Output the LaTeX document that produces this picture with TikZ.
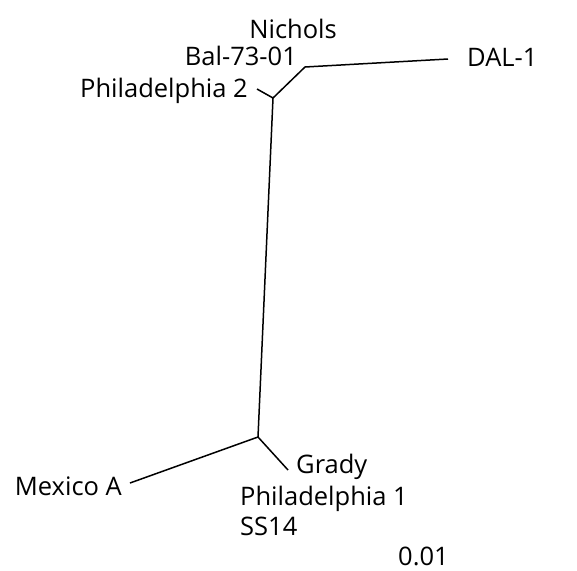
\documentclass[tikz,border=0pt]{standalone}
\usepackage{fontspec}
\setmainfont{Open Sans}
\begin{document}
\begin{tikzpicture}[x=1pt,y=-1pt,
  lbl/.style={inner sep=0pt,font=\fontsize{25.5}{30}\selectfont},
  branch/.style={line width=1.5pt,black}]
\useasboundingbox (0,0) rectangle (577,570);
\coordinate (t) at (273,98);
\coordinate (p2) at (257,89);
\coordinate (nb) at (305,67);
\coordinate (dal) at (448,59);
\coordinate (b) at (258,437);
\coordinate (mex) at (130,483);
\coordinate (gr) at (288,470);
\draw[branch] (p2) -- (t) -- (b);
\draw[branch] (t) -- (nb) -- (dal);
\draw[branch] (mex) -- (b) -- (gr);
\node[lbl,anchor=base east] (n1) at (337,38) {Nichols};
\node[lbl,anchor=base east] (n2) at (297,65) {Bal-73-01};
\node[lbl,anchor=base east] (n3) at (248,97) {Philadelphia 2};
\node[lbl,anchor=base west] (n4) at (467,66) {DAL-1};
\node[lbl,anchor=base east] (n5) at (122,495) {Mexico A};
\node[lbl,anchor=base west] (n6) at (296,473) {Grady};
\node[lbl,anchor=base west] (n7) at (240,505) {Philadelphia 1};
\node[lbl,anchor=base west] (n8) at (240,535) {SS14};
\node[lbl,anchor=base west] (n9) at (398,565) {0.01};
\end{tikzpicture}
\end{document}
